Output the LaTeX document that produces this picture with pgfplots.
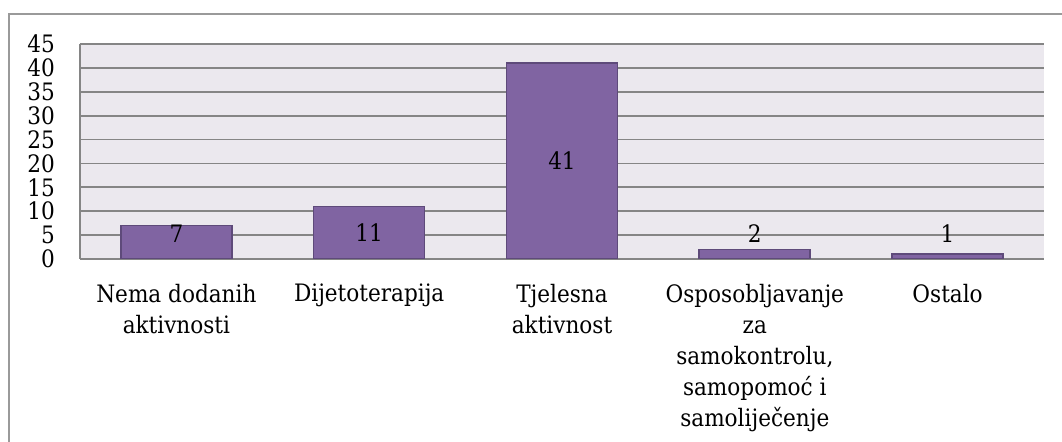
\documentclass[border=0pt]{standalone}
\usepackage{pgfplots}
\pgfplotsset{compat=1.18}
\usepackage{fontspec}
\setmainfont{DejaVu Serif Condensed}
\definecolor{barfill}{HTML}{8064A2}
\definecolor{baredge}{HTML}{5E4A7A}
\definecolor{plotbg}{HTML}{EBE8EE}
\definecolor{gridc}{HTML}{858585}
\definecolor{framec}{HTML}{9A9A9A}
\begin{document}
\begin{tikzpicture}
\useasboundingbox (-40pt,-91.5pt) rectangle (491pt,129.5pt);
\draw[framec, line width=0.8pt] (-35.5pt,-95pt) -- (-35.5pt,122.5pt) -- (495pt,122.5pt);
\begin{axis}[
  at={(0pt,0pt)}, anchor=south west,
  scale only axis,
  width=482pt, height=107.5pt,
  xmin=-0.5, xmax=4.5,
  ymin=0, ymax=45,
  ytick={0,5,...,45},
  xtick=data,
  xticklabels={{Nema dodanih\\aktivnosti},{Dijetoterapija},{Tjelesna\\aktivnost},{Osposobljavanje\\za\\samokontrolu,\\samopomoć i\\samoliječenje},{Ostalo}},
  major tick length=0pt,
  axis x line*=bottom, axis y line*=left,
  axis background/.style={fill=plotbg},
  axis line style={gridc, line width=0.9pt, -},
  ymajorgrids,
  grid style={gridc, line width=0.9pt},
  /pgf/number format/assume math mode=true,
  tick label style={font=\fontsize{12}{15.5}\selectfont},
  xticklabel style={align=center, anchor=north, yshift=-9pt},
  yticklabel style={anchor=east, xshift=-9pt},
  ybar, bar width=55.5pt,
  nodes near coords,
  visualization depends on=y \as \rawy,
  every node near coord/.append style={font=\fontsize{12}{15.5}\selectfont, anchor=center, shift={(axis direction cs:0,{max(\rawy/2,5.3)-\rawy})}},
]
\addplot[fill=barfill, draw=baredge, line width=0.8pt] coordinates {(0,7) (1,11) (2,41) (3,2) (4,1)};
\end{axis}
\end{tikzpicture}
\end{document}
